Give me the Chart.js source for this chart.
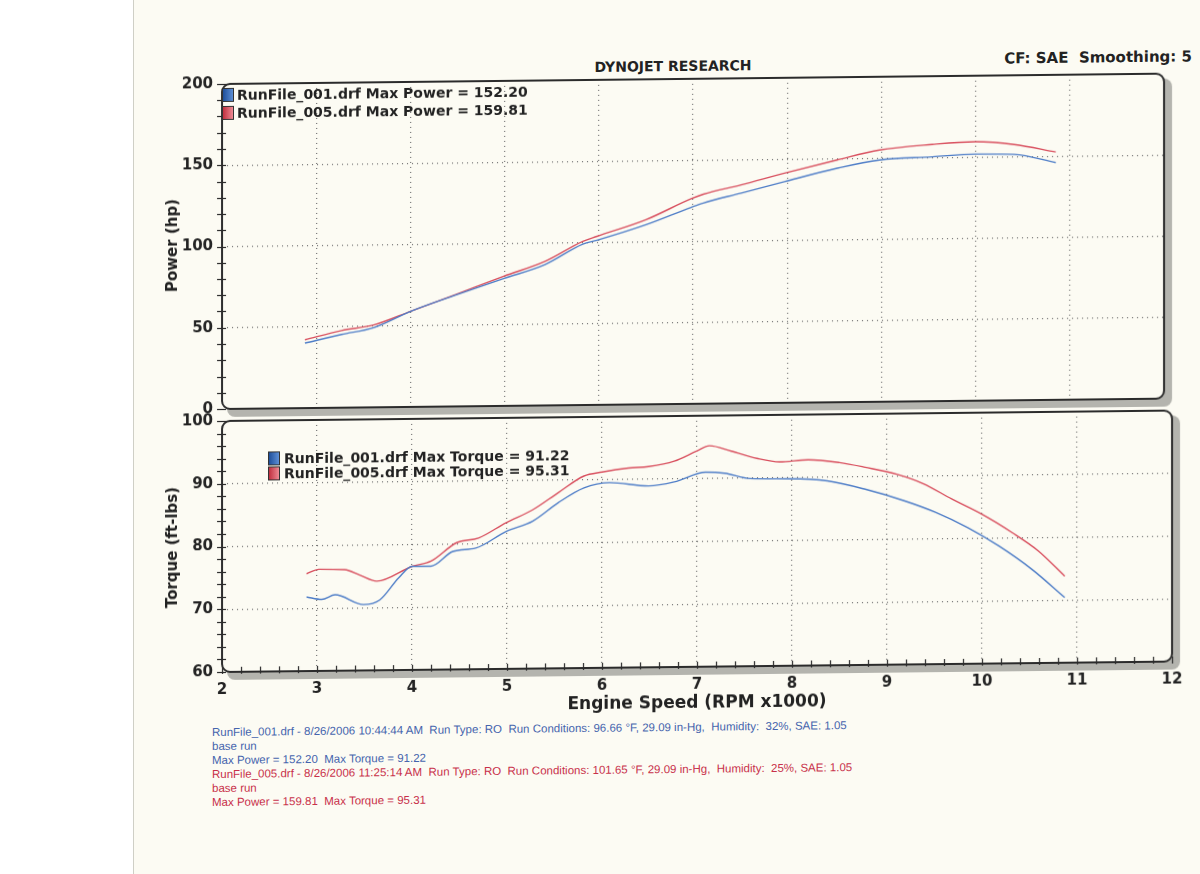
<!DOCTYPE html>
<html>
<head>
<meta charset="utf-8">
<title>Dynojet Research</title>
<script src="https://cdn.jsdelivr.net/npm/chart.js@4.4.0/dist/chart.umd.min.js"></script>
<style>
    body {
        margin: 0;
        width: 1200px;
        height: 874px;
        background: #ffffff;
        position: relative;
        overflow: hidden;
        font-family: "DejaVu Sans", Verdana, sans-serif;
    }
    #paper {
        position: absolute;
        left: 133px;
        top: 0;
        width: 1067px;
        height: 874px;
        background: #fcfbf3;
        border-left: 1px solid #cfcfc6;
    }
    /* the scanned sheet is slightly tilted */
    #sheet {
        position: absolute;
        left: 0;
        top: 0;
        width: 1200px;
        height: 874px;
        transform: skewY(-0.63deg);
        transform-origin: 222px 0;
    }
    .abs { position: absolute; white-space: nowrap; }
    .bold { font-weight: bold; color: #222; }
    .legend { font-size: 14px; line-height: 14px; }
    .swatch {
        position: absolute;
        width: 10px;
        height: 12px;
        border: 1px solid #333;
    }
    .blue-sw { background: linear-gradient(90deg, #1f4f9a, #5d8fd6); }
    .red-sw { background: linear-gradient(90deg, #c0303f, #ee8a94); }
    .vtitle {
        transform: translate(-50%, -50%) rotate(-90deg);
        font-size: 15px;
    }
    .note {
        font-family: "Liberation Sans", Arial, sans-serif;
        font-size: 11.5px;
        line-height: 14px;
    }
    .note-blue { color: #4564ad; }
    .note-red { color: #c8304a; }
    canvas { position: absolute; }
</style>
</head>
<body>
<div id="paper"></div>

<div id="sheet">
<div class="abs bold" style="left:673px; top:63px; transform:translateX(-50%); font-size:14px;">DYNOJET RESEARCH</div>
<div class="abs bold" style="right:8px; top:58px; font-size:15px;">CF: SAE&nbsp; Smoothing: 5</div>

<canvas id="power-chart" width="1060" height="361" style="left:140px; top:66px;"></canvas>
<canvas id="torque-chart" width="1060" height="312" style="left:140px; top:403px;"></canvas>

<div class="abs bold vtitle" style="left:172px; top:245px;">Power (hp)</div>
<div class="abs bold vtitle" style="left:172px; top:547px;">Torque (ft-lbs)</div>
<div class="abs bold" style="left:697px; top:697px; transform:translateX(-50%); font-size:17px;">Engine Speed (RPM x1000)</div>

<div class="swatch blue-sw" style="left:222px; top:88px;"></div>
<div class="abs bold legend" style="left:237px; top:88px;">RunFile_001.drf Max Power = 152.20</div>
<div class="swatch red-sw" style="left:222px; top:106px;"></div>
<div class="abs bold legend" style="left:237px; top:106px;">RunFile_005.drf Max Power = 159.81</div>

<div class="swatch blue-sw" style="left:268px; top:452px;"></div>
<div class="abs bold legend" style="left:284px; top:452px;">RunFile_001.drf Max Torque = 91.22</div>
<div class="swatch red-sw" style="left:268px; top:467px;"></div>
<div class="abs bold legend" style="left:284px; top:467px;">RunFile_005.drf Max Torque = 95.31</div>

<div class="abs note note-blue" style="left:212px; top:725px;">
    RunFile_001.drf - 8/26/2006 10:44:44 AM&nbsp; Run Type: RO&nbsp; Run Conditions: 96.66 °F, 29.09 in-Hg,&nbsp; Humidity:&nbsp; 32%, SAE: 1.05<br>
    base run<br>
    Max Power = 152.20&nbsp; Max Torque = 91.22
</div>
<div class="abs note note-red" style="left:212px; top:767px;">
    RunFile_005.drf - 8/26/2006 11:25:14 AM&nbsp; Run Type: RO&nbsp; Run Conditions: 101.65 °F, 29.09 in-Hg,&nbsp; Humidity:&nbsp; 25%, SAE: 1.05<br>
    base run<br>
    Max Power = 159.81&nbsp; Max Torque = 95.31
</div>
</div>

<script>
// Values (rpm in thousands)
const rpmPower001 = [2.88, 3.27, 3.61, 4.01, 4.48, 4.99, 5.43, 5.83, 5.98, 6.50, 6.98, 7.11, 7.51, 7.97, 8.53, 8.98, 9.54, 10.0, 10.41, 10.85];
const power001 = [40.0, 45.1, 49.0, 59.0, 68.5, 78.4, 86.7, 99.0, 101.3, 110.5, 120.9, 123.5, 129.3, 136.1, 144.0, 148.8, 150.4, 151.8, 151.3, 146.0];

const rpmPower005 = [2.88, 3.27, 3.61, 4.01, 4.48, 4.99, 5.43, 5.83, 5.98, 6.50, 6.98, 7.11, 7.51, 7.97, 8.53, 8.98, 9.54, 10.0, 10.41, 10.85];
const power005 = [42.0, 47.5, 50.7, 59.0, 68.9, 79.8, 88.7, 100.7, 103.7, 113.6, 126.2, 128.9, 134.4, 141.3, 149.1, 154.9, 158.0, 159.4, 157.4, 152.5];

const rpmTorque001 = [2.89, 3.05, 3.19, 3.49, 3.66, 3.86, 4.0, 4.2, 4.43, 4.67, 4.99, 5.27, 5.54, 5.81, 6.08, 6.49, 6.76, 7.09, 7.29, 7.56, 7.97, 8.37, 8.77, 9.18, 9.51, 9.85, 10.18, 10.52, 10.87];
const torque001 = [71.8, 71.4, 72.1, 70.5, 71.2, 74.7, 76.5, 76.5, 78.8, 79.3, 81.9, 83.5, 86.4, 88.7, 89.5, 88.9, 89.5, 91.0, 90.8, 89.9, 89.8, 89.4, 88.0, 86.1, 84.2, 81.7, 78.7, 75.0, 70.4];

const rpmTorque005 = [2.89, 3.02, 3.29, 3.45, 3.63, 4.0, 4.2, 4.47, 4.7, 4.99, 5.27, 5.54, 5.81, 6.0, 6.28, 6.49, 6.76, 7.0, 7.13, 7.36, 7.63, 7.87, 8.17, 8.5, 8.77, 9.11, 9.38, 9.68, 10.0, 10.32, 10.59, 10.87];
const torque005 = [75.5, 76.2, 76.1, 75.2, 74.2, 76.5, 77.3, 80.2, 80.9, 83.3, 85.3, 88.0, 90.6, 91.2, 91.8, 92.0, 92.8, 94.4, 95.2, 94.3, 93.1, 92.5, 92.8, 92.3, 91.5, 90.3, 88.8, 86.3, 83.8, 80.8, 77.9, 73.8];

const BLUE = '#4f7ec8';
const RED = '#d9505f';
const TICK_FONT = { family: 'DejaVu Sans', size: 15, weight: 'bold' };

function toPoints(xs, ys) {
    return xs.map((x, i) => ({ x: x, y: ys[i] }));
}

function isMultiple(v, step) {
    return Math.abs(v / step - Math.round(v / step)) < 1e-6;
}

// Rounded frame with drop shadow, minor ticks crossing the edges
const framePlugin = {
    id: 'frame',
    beforeDraw(chart) {
        const a = chart.chartArea;
        const ctx = chart.ctx;
        ctx.save();
        ctx.fillStyle = '#b4b4ae';
        ctx.beginPath();
        ctx.roundRect(a.left + 5, a.top + 5, a.width + 3, a.height + 3, 8);
        ctx.fill();
        ctx.fillStyle = '#fcfbf3';
        ctx.beginPath();
        ctx.roundRect(a.left, a.top, a.width, a.height, 8);
        ctx.fill();
        ctx.restore();
    },
    afterDraw(chart, args, opts) {
        const a = chart.chartArea;
        const ctx = chart.ctx;
        ctx.save();
        ctx.strokeStyle = '#2a2a2a';
        ctx.lineWidth = 1.2;
        const y = chart.scales.y;
        y.ticks.forEach(t => {
            const py = Math.round(y.getPixelForValue(t.value)) + 0.5;
            ctx.beginPath();
            ctx.moveTo(a.left - 5, py);
            ctx.lineTo(a.left + 4, py);
            ctx.stroke();
        });
        if (opts.xTicks) {
            const x = chart.scales.x;
            x.ticks.forEach(t => {
                const px = Math.round(x.getPixelForValue(t.value)) + 0.5;
                ctx.beginPath();
                ctx.moveTo(px, a.bottom - 5);
                ctx.lineTo(px, a.bottom + 2);
                ctx.stroke();
            });
        }
        ctx.lineWidth = 2;
        ctx.strokeStyle = '#2b2b2b';
        ctx.beginPath();
        ctx.roundRect(a.left, a.top, a.width, a.height, 8);
        ctx.stroke();
        ctx.restore();
    }
};

function gridColor(step, min, max) {
    return ctx => {
        const v = ctx.tick ? ctx.tick.value : null;
        if (v === null || v === min || v === max) return 'rgba(0,0,0,0)';
        return isMultiple(v, step) ? '#6f6f6f' : 'rgba(0,0,0,0)';
    };
}

function lineDataset(label, xs, ys, color) {
    return {
        label: label,
        data: toPoints(xs, ys),
        borderColor: color,
        backgroundColor: color,
        borderWidth: 1.4,
        pointRadius: 0,
        cubicInterpolationMode: 'monotone',
        fill: false
    };
}

new Chart(document.getElementById('power-chart'), {
    type: 'line',
    data: {
        datasets: [
            lineDataset('RunFile_001.drf', rpmPower001, power001, BLUE),
            lineDataset('RunFile_005.drf', rpmPower005, power005, RED)
        ]
    },
    options: {
        responsive: false,
        animation: false,
        layout: { padding: { top: 8, right: 36, bottom: 7, left: 0 } },
        plugins: { legend: { display: false }, tooltip: { enabled: false }, frame: { xTicks: false } },
        scales: {
            x: {
                type: 'linear',
                min: 2,
                max: 12,
                ticks: { stepSize: 1, display: false },
                grid: { color: gridColor(1, 2, 12), drawTicks: false, lineWidth: 1.2 },
                border: { display: false, dash: [1, 4] },
                afterFit: s => { s.height = 0; }
            },
            y: {
                min: 0,
                max: 200,
                ticks: {
                    stepSize: 10,
                    autoSkip: false,
                    padding: 9,
                    color: '#222',
                    font: TICK_FONT,
                    callback: v => isMultiple(v, 50) ? v : ''
                },
                grid: { color: gridColor(50, 0, 200), drawTicks: false, lineWidth: 1.2 },
                border: { display: false, dash: [1, 4] },
                afterFit: s => { s.width = 82; }
            }
        }
    },
    plugins: [framePlugin]
});

new Chart(document.getElementById('torque-chart'), {
    type: 'line',
    data: {
        datasets: [
            lineDataset('RunFile_001.drf', rpmTorque001, torque001, BLUE),
            lineDataset('RunFile_005.drf', rpmTorque005, torque005, RED)
        ]
    },
    options: {
        responsive: false,
        animation: false,
        layout: { padding: { top: 6, right: 28, bottom: 0, left: 0 } },
        plugins: { legend: { display: false }, tooltip: { enabled: false }, frame: { xTicks: true } },
        scales: {
            x: {
                type: 'linear',
                min: 2,
                max: 12,
                ticks: {
                    stepSize: 0.2,
                    autoSkip: false,
                    maxRotation: 0,
                    padding: 9,
                    color: '#222',
                    font: TICK_FONT,
                    callback: v => isMultiple(v, 1) ? Math.round(v) : ''
                },
                grid: { color: gridColor(1, 2, 12), drawTicks: false, lineWidth: 1.2 },
                border: { display: false, dash: [1, 4] },
                afterFit: s => { s.height = 43; }
            },
            y: {
                min: 60,
                max: 100,
                ticks: {
                    stepSize: 2,
                    autoSkip: false,
                    padding: 9,
                    color: '#222',
                    font: TICK_FONT,
                    callback: v => isMultiple(v, 10) ? v : ''
                },
                grid: { color: gridColor(10, 60, 100), drawTicks: false, lineWidth: 1.2 },
                border: { display: false, dash: [1, 4] },
                afterFit: s => { s.width = 82; }
            }
        }
    },
    plugins: [framePlugin]
});
</script>
</body>
</html>
